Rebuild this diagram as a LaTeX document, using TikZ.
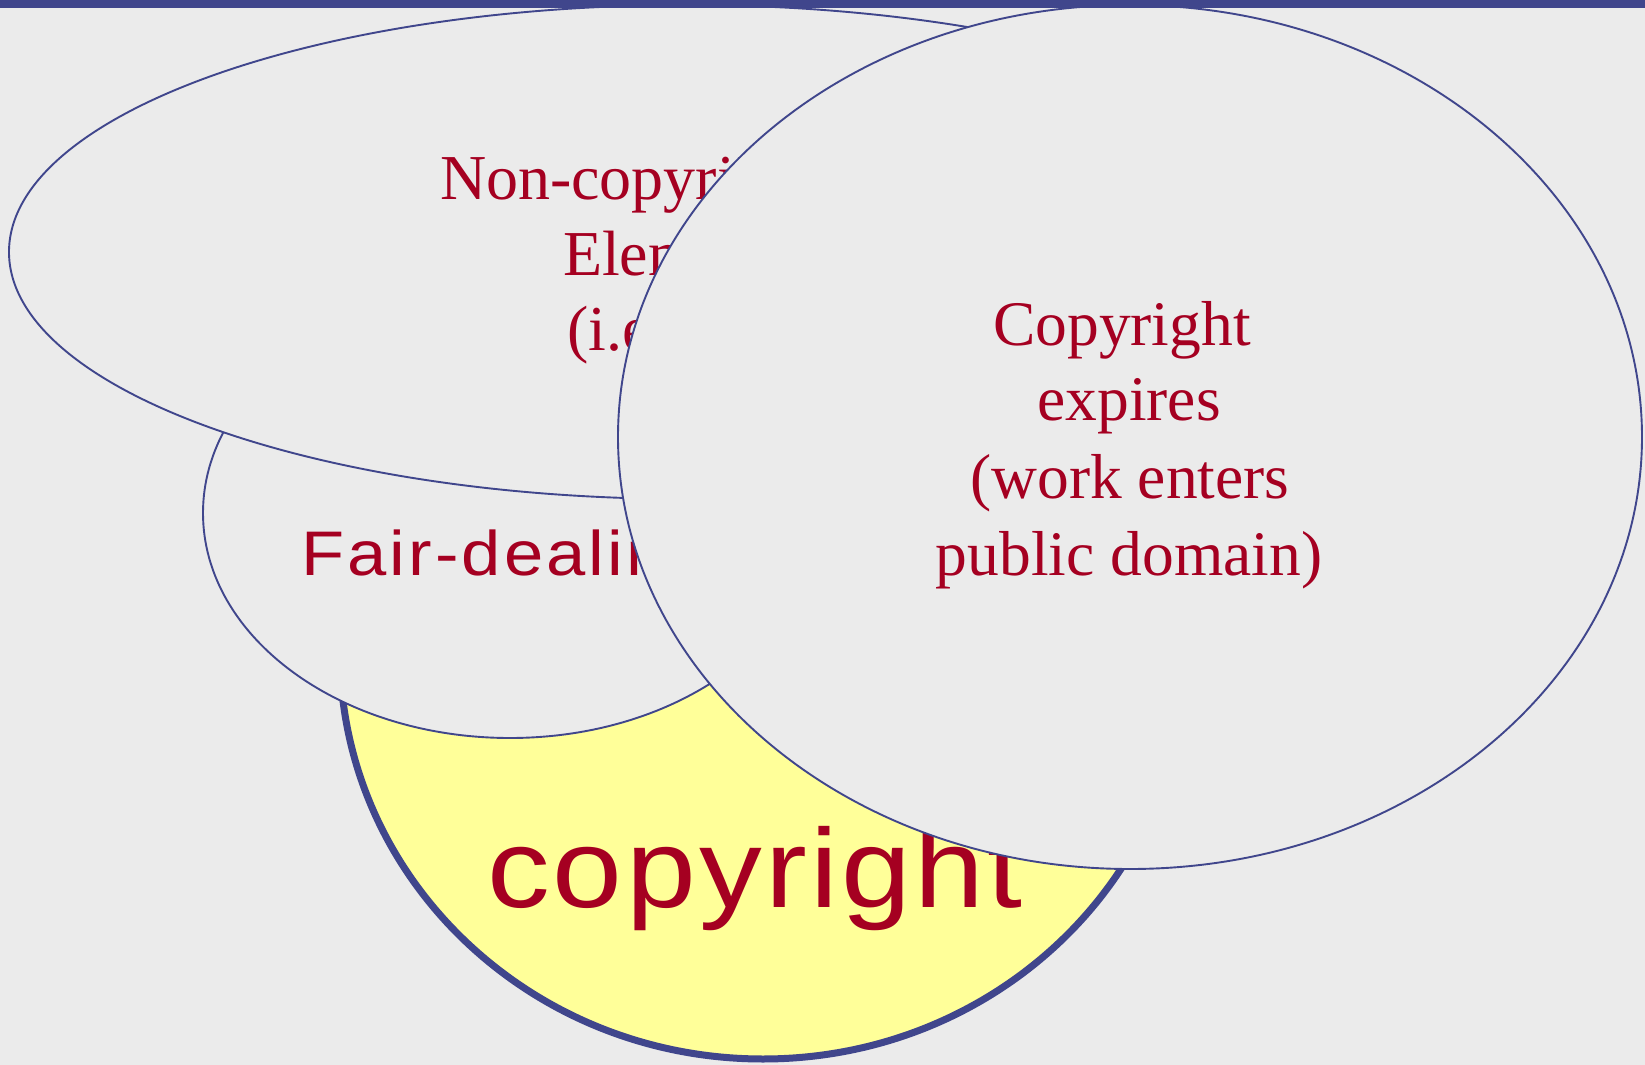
\documentclass[tikz,border=0pt]{standalone}
\usepackage{fontspec}
\setmainfont{Liberation Serif}
\newfontfamily\arialf{Liberation Sans}
\definecolor{bg}{RGB}{235,235,235}
\definecolor{navy}{RGB}{64,70,140}
\definecolor{yel}{RGB}{255,255,153}
\definecolor{txtred}{RGB}{165,0,33}
\begin{document}
\begin{tikzpicture}[x=0.5pt,y=-0.5pt,
  setshape/.style={draw=navy,line width=0.95pt,fill=bg},
  lbl/.style={text=txtred,inner sep=0pt,outer sep=0pt},
  serifl/.style={lbl,font=\fontsize{32}{38}\selectfont},
]
\useasboundingbox (0,0) rectangle (1645,1065);
\fill[bg] (0,0) rectangle (1645,1065);
% copyright set
\draw[draw=navy,line width=3.5pt,fill=yel] (763,652) ellipse [x radius=211.5pt, y radius=203.5pt];
\node[lbl,anchor=base west,font=\arialf\addfontfeature{FakeStretch=1.12,LetterSpace=3}\fontsize{56}{60}\selectfont] (cr) at (487,907) {copyright};
% fair dealing
\draw[setshape] (510,513) ellipse [x radius=153.5pt, y radius=112.5pt];
\node[lbl,anchor=base west,font=\arialf\addfontfeature{FakeStretch=1.12,LetterSpace=5}\fontsize{31.5}{36}\selectfont] (fd) at (301,575) {Fair-dealing};
% non-copyrightable elements
\draw[setshape] (687,252) ellipse [x radius=339pt, y radius=123.5pt];
\node[serifl,anchor=base west] (nc1) at (440,199) {Non-copyrightable};
\node[serifl,anchor=base west] (nc2) at (563,275) {Elements};
\node[serifl,anchor=base west] (nc3) at (567,350) {(i.e. ideas)};
% copyright expires
\draw[setshape] (1130,437) ellipse [x radius=256pt, y radius=216pt];
\node[serifl,anchor=base,font=\fontsize{31.75}{38}\selectfont] (ex1) at (1122,345) {Copyright};
\node[serifl,anchor=base,font=\fontsize{31.75}{38}\selectfont] (ex2) at (1129,420) {expires};
\node[serifl,anchor=base,font=\fontsize{31.75}{38}\selectfont] (ex3) at (1130,498) {(work enters};
\node[serifl,anchor=base,font=\fontsize{31.75}{38}\selectfont] (ex4) at (1129,575) {public domain)};
% top bar
\fill[navy] (0,0) rectangle (1645,8.5);
\end{tikzpicture}
\end{document}
